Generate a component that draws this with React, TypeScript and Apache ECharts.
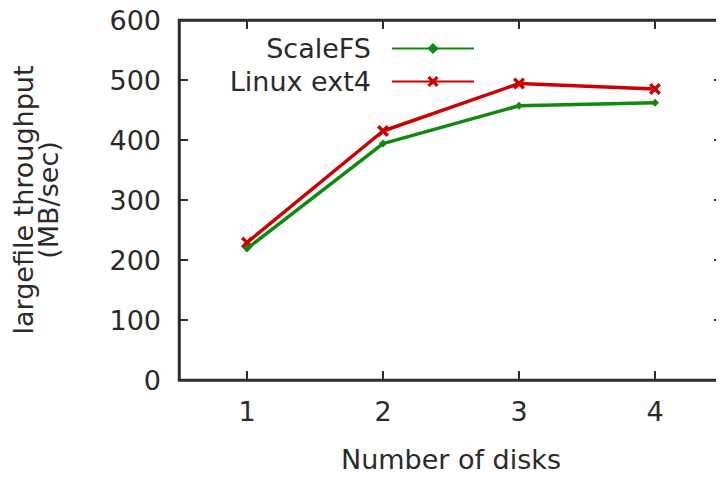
import React, { useEffect, useRef } from "react";
import * as echarts from "echarts";

const categories = ["1", "2", "3", "4"];
const scaleFS = [219, 394, 457, 462];
const linuxExt4 = [229, 415, 494, 485];
const seriesNames = ["ScaleFS", "Linux ext4"];

const FONT = "DejaVu Sans";
const FS = 27;
const TXT = "#2a2a2a";
const AX = "#2f2f2f";
const GREEN = "#0e8a0e";
const RED = "#cc0000";
const XSYM = "path://M0,2 L2,0 L5,3 L8,0 L10,2 L7,5 L10,8 L8,10 L5,7 L2,10 L0,8 L3,5 Z";

export default function App() {
  const ref = useRef<HTMLDivElement>(null);
  useEffect(() => {
    const chart = echarts.init(ref.current!, null, { renderer: "svg" });
    const axisLine = { show: true, onZero: false, lineStyle: { color: AX, width: 2.5 } };
    const tick = { show: true, inside: true, length: 9, lineStyle: { color: AX, width: 2 } };
    const legendBase = {
      orient: "vertical",
      align: "right",
      right: 244,
      itemWidth: 82,
      itemHeight: 14,
      textStyle: { fontFamily: FONT, fontSize: FS, color: TXT, padding: [0, 16, 0, 0] },
    };
    chart.setOption({
      animation: false,
      backgroundColor: "#ffffff",
      textStyle: { fontFamily: FONT },
      grid: {
        left: 179,
        top: 20,
        width: 544,
        height: 363,
        show: true,
        borderColor: AX,
        borderWidth: 2.5,
      },
      legend: [
        { ...legendBase, data: [seriesNames[0]], top: 30 },
        { ...legendBase, data: [seriesNames[1]], top: 63 },
      ],
      xAxis: [
        {
          type: "category",
          data: categories,
          boundaryGap: true,
          position: "bottom",
          axisLine,
          axisTick: { ...tick, alignWithLabel: true },
          axisLabel: { fontFamily: FONT, fontSize: FS, color: TXT, margin: 18 },
          name: "Number of disks",
          nameLocation: "middle",
          nameGap: 66,
          nameTextStyle: { fontFamily: FONT, fontSize: FS, color: TXT },
          splitLine: { show: false },
        },
        {
          type: "category",
          data: categories,
          boundaryGap: true,
          position: "top",
          axisLine,
          axisTick: { ...tick, alignWithLabel: true },
          axisLabel: { show: false },
          splitLine: { show: false },
        },
      ],
      yAxis: [
        {
          type: "value",
          min: 0,
          max: 600,
          interval: 100,
          position: "left",
          axisLine,
          axisTick: tick,
          axisLabel: { fontFamily: FONT, fontSize: FS, color: TXT, margin: 18 },
          splitLine: { show: false },
          name: "largefile throughput\n(MB/sec)",
          nameLocation: "middle",
          nameRotate: 90,
          nameGap: 118,
          nameTextStyle: { fontFamily: FONT, fontSize: FS, color: TXT, lineHeight: 25 },
        },
        {
          type: "value",
          min: 0,
          max: 600,
          interval: 100,
          position: "right",
          axisLine,
          axisTick: tick,
          axisLabel: { show: false },
          splitLine: { show: false },
        },
      ],
      series: [
        {
          name: seriesNames[0],
          type: "line",
          data: scaleFS,
          symbol: "diamond",
          symbolSize: 8,
          lineStyle: { color: GREEN, width: 3.5 },
          itemStyle: { color: GREEN },
          z: 3,
        },
        {
          name: seriesNames[1],
          type: "line",
          data: linuxExt4,
          symbol: XSYM,
          symbolSize: 12,
          lineStyle: { color: RED, width: 3.5 },
          itemStyle: { color: RED },
          z: 2,
        },
      ],
    });
    return () => chart.dispose();
  }, []);
  return <div ref={ref} style={{ width: 724, height: 478, margin: -8 }} />;
}
